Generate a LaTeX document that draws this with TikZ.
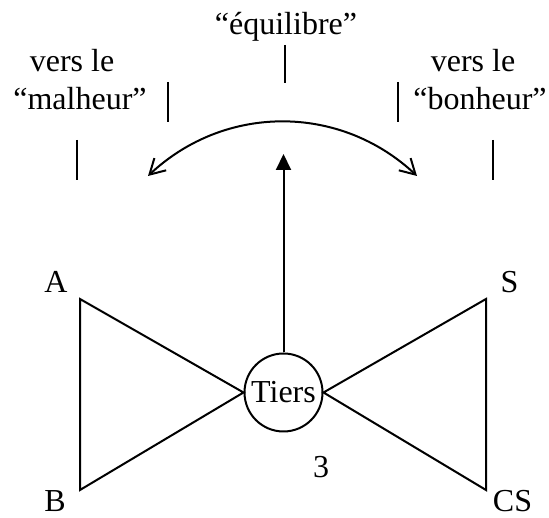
\documentclass[tikz,border=0pt]{standalone}
\usepackage{fontspec}
\setmainfont{Liberation Serif}
\usetikzlibrary{arrows.meta,bending}
\begin{document}
\begin{tikzpicture}[x=1pt,y=1pt,
  lbl/.style={anchor=base,inner sep=0pt,text depth=0pt,font=\fontsize{32}{38}\selectfont},
  bar/.style={line width=2pt},
  edge/.style={line width=2pt,line join=miter},
  hub/.style={circle,draw,line width=2pt,minimum size=78pt,inner sep=0pt,font=\fontsize{32}{38}\selectfont}]
\useasboundingbox (0,0) rectangle (549,518);
% top labels
\node[lbl] (eq) at (286,483) {“équilibre”};
\node[lbl] (vl1) at (72,446) {vers le};
\node[lbl] (mal) at (80,408) {“malheur”};
\node[lbl] (vl2) at (473,446) {vers le};
\node[lbl] (bon) at (480,408) {“bonheur”};
% bars
\coordinate (eqT) at (285,473); \coordinate (eqB) at (285,435);
\coordinate (l1T) at (168,436); \coordinate (l1B) at (168,396);
\coordinate (l2T) at (77,378);  \coordinate (l2B) at (77,338);
\coordinate (r1T) at (398,436); \coordinate (r1B) at (398,396);
\coordinate (r2T) at (493,378); \coordinate (r2B) at (493,338);
\draw[bar] (eqT) -- (eqB);
\draw[bar] (l1T) -- (l1B);
\draw[bar] (l2T) -- (l2B);
\draw[bar] (r1T) -- (r1B);
\draw[bar] (r2T) -- (r2B);
% hub and bow-tie
\node[hub] (tiers) at (283.5,125.5) {Tiers};
\coordinate (va) at (80,219);
\coordinate (vb) at (80,28);
\coordinate (vs) at (486,219);
\coordinate (vcs) at (486,28);
\draw[edge] (tiers.west) -- (va) -- (vb) -- cycle;
\draw[edge] (tiers.east) -- (vs) -- (vcs) -- cycle;
\node[lbl] (A) at (56,225) {A};
\node[lbl] (B) at (55,6) {B};
\node[lbl] (S) at (509.5,225) {S};
\node[lbl] (CS) at (512.5,6) {CS};
\node[lbl] (three) at (321,40) {3};
% arrows
\coordinate (tip) at (283.5,364);
\draw[edge,-{Triangle[length=16pt,width=15pt]}] (tiers.north) -- (tip);
\coordinate (cl) at (148,342);
\coordinate (cr) at (417,342);
\draw[edge,{Straight Barb[length=15pt,width=17pt,flex=1]}-{Straight Barb[length=15pt,width=17pt,flex=1]}] (cl) to[bend left=44] (cr);
\end{tikzpicture}
\end{document}
